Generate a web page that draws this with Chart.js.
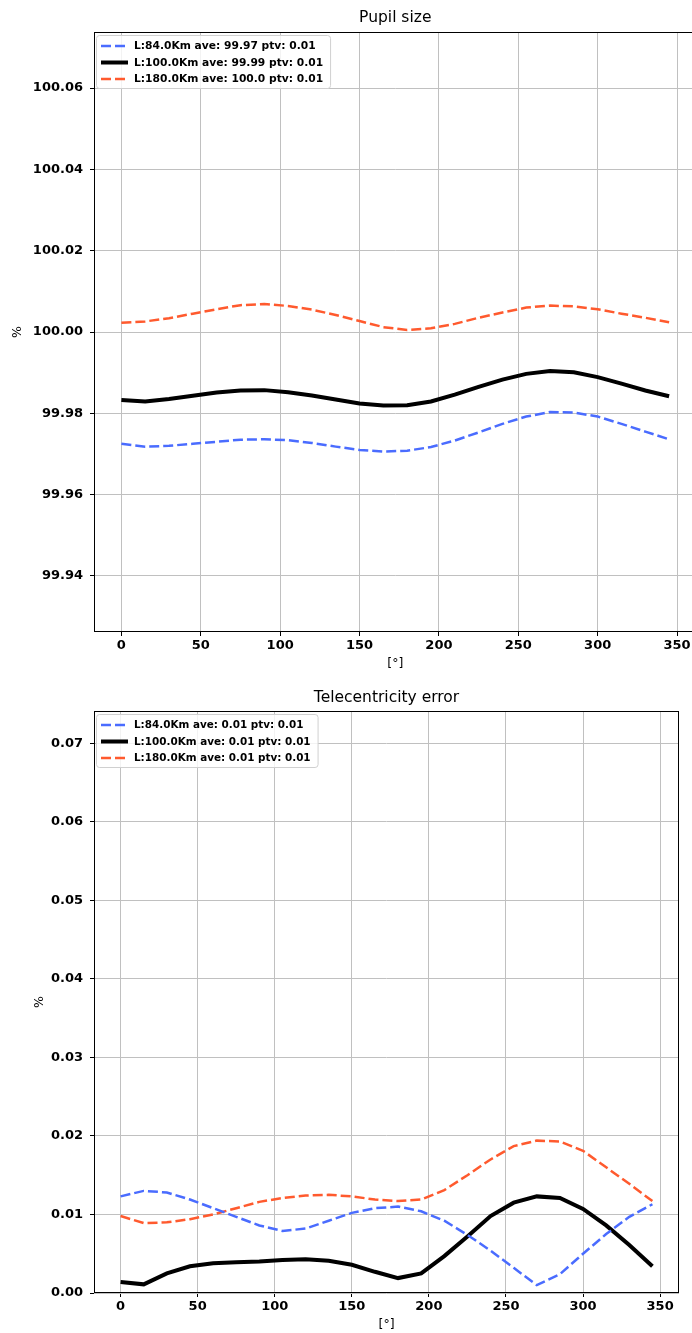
<!DOCTYPE html>
<html>
<head>
<meta charset="utf-8">
<script src="https://cdn.jsdelivr.net/npm/chart.js@4.4.1/dist/chart.umd.min.js"></script>
<style>
body{margin:0;background:#fff;overflow:hidden;width:692px;height:1333px;}
#top{position:absolute;left:0;top:0;width:692px;height:680px;overflow:hidden;}
#bot{position:absolute;left:0;top:680px;width:692px;height:653px;}
</style>
</head>
<body>
<div id="top"><canvas id="pupil" width="700" height="680"></canvas></div>
<div id="bot"><canvas id="tele" width="692" height="653"></canvas></div>
<script>
// angle in degrees
var angles = [0,15,30,45,60,75,90,105,120,135,150,165,180,195,210,225,240,255,270,285,300,315,330,345];

// Pupil size (%)
var pupil84  = [99.9725,99.9718,99.9720,99.9725,99.9730,99.9735,99.9736,99.9734,99.9727,99.9718,99.9710,99.9706,
                99.9708,99.9717,99.9733,99.9753,99.9774,99.9792,99.9803,99.9802,99.9792,99.9774,99.9755,99.9736];
var pupil100 = [99.9833,99.9829,99.9835,99.9843,99.9851,99.9856,99.9857,99.9852,99.9844,99.9834,99.9824,99.9819,
                99.9820,99.9829,99.9846,99.9865,99.9883,99.9897,99.9904,99.9901,99.9889,99.9873,99.9856,99.9842];
var pupil180 = [100.0023,100.0026,100.0034,100.0045,100.0056,100.0066,100.0069,100.0064,100.0055,100.0042,100.0027,100.0012,
                100.0005,100.0009,100.0020,100.0035,100.0048,100.0060,100.0065,100.0063,100.0056,100.0045,100.0035,100.0024];
var pupilLabels = ['L:84.0Km ave: 99.97 ptv: 0.01','L:100.0Km ave: 99.99 ptv: 0.01','L:180.0Km ave: 100.0 ptv: 0.01'];

// Telecentricity error (%)
var tele84  = [0.0123,0.0130,0.0128,0.0119,0.0108,0.0097,0.0086,0.0079,0.0082,0.0092,0.0102,0.0108,
               0.0110,0.0104,0.0092,0.0074,0.0054,0.0032,0.0010,0.0024,0.0050,0.0075,0.0097,0.0113];
var tele100 = [0.0014,0.0011,0.0025,0.0034,0.0038,0.0039,0.0040,0.0042,0.0043,0.0041,0.0036,0.0027,
               0.0019,0.0025,0.0047,0.0072,0.0098,0.0115,0.0123,0.0121,0.0107,0.0086,0.0061,0.0034];
var tele180 = [0.0098,0.0089,0.0090,0.0094,0.0100,0.0108,0.0116,0.0121,0.0124,0.0125,0.0123,0.0119,
               0.0117,0.0119,0.0131,0.0150,0.0170,0.0187,0.0194,0.0193,0.0181,0.0160,0.0139,0.0117];
var teleLabels = ['L:84.0Km ave: 0.01 ptv: 0.01','L:100.0Km ave: 0.01 ptv: 0.01','L:180.0Km ave: 0.01 ptv: 0.01'];

var xTicks = [0,50,100,150,200,250,300,350];

Chart.defaults.font.family = '"DejaVu Sans", sans-serif';
Chart.defaults.color = '#000';

var framePlugin = {
	id: 'frame',
	afterDatasetsDraw: function(chart, args, opts) {
		var ctx = chart.ctx, a = chart.chartArea;
		ctx.save();
		ctx.strokeStyle = '#000';
		ctx.lineWidth = 1;
		ctx.strokeRect(Math.round(a.left) + 0.5, Math.round(a.top) + 0.5,
			Math.round(a.right - a.left) - 1, Math.round(a.bottom - a.top) - 1);

		// title
		ctx.fillStyle = '#000';
		ctx.font = '15.5px "DejaVu Sans"';
		ctx.textAlign = 'center';
		ctx.textBaseline = 'middle';
		ctx.fillText(opts.text, (a.left + a.right) / 2, a.top - opts.gap);

		// legend in upper left
		ctx.font = 'bold ' + opts.legendSize + 'px "DejaVu Sans"';
		var ds = chart.data.datasets;
		var w = 0;
		for (var i = 0; i < ds.length; i++) {
			w = Math.max(w, ctx.measureText(ds[i].label).width);
		}
		var bx = a.left + 2.5, by = a.top + 3.5, bw = w + 45, bh = 53;
		ctx.beginPath();
		ctx.roundRect(bx, by, bw, bh, 3);
		ctx.fillStyle = 'rgba(255,255,255,0.8)';
		ctx.fill();
		ctx.strokeStyle = '#d0d0d0';
		ctx.stroke();
		ctx.textAlign = 'left';
		for (var j = 0; j < ds.length; j++) {
			var ry = a.top + 14 + j * 16.5;
			ctx.beginPath();
			ctx.setLineDash(ds[j].borderDash || []);
			ctx.strokeStyle = ds[j].borderColor;
			ctx.lineWidth = ds[j].borderWidth;
			ctx.moveTo(a.left + 7, ry);
			ctx.lineTo(a.left + 34, ry);
			ctx.stroke();
			ctx.setLineDash([]);
			ctx.fillStyle = '#000';
			ctx.fillText(ds[j].label, a.left + 40, ry + 0.5);
		}
		ctx.restore();
	}
};

function makeSets(labels, a, b, c) {
	var mk = function(lab, vals, color, width, dash) {
		var pts = [];
		for (var i = 0; i < angles.length; i++) pts.push({x: angles[i], y: vals[i]});
		return {label: lab, data: pts, borderColor: color, borderWidth: width, borderDash: dash,
			pointRadius: 0, tension: 0, fill: false};
	};
	return [
		mk(labels[0], a, '#4a6cff', 2.5, [10, 4]),
		mk(labels[1], b, '#000000', 4, []),
		mk(labels[2], c, '#ff5a2e', 2.5, [10, 4])
	];
}

function makeChart(id, sets, opt) {
	return new Chart(document.getElementById(id), {
		type: 'line',
		data: {datasets: sets},
		plugins: [framePlugin],
		options: {
			responsive: false,
			animation: false,
			devicePixelRatio: 1,
			layout: {padding: {top: opt.top, right: opt.right, left: 0, bottom: 0}},
			plugins: {
				legend: {display: false},
				tooltip: {enabled: false},
				frame: {text: opt.title, gap: opt.gap, legendSize: opt.legendSize}
			},
			scales: {
				x: {
					type: 'linear',
					min: -17.25, max: 362.25,
					afterFit: function(s) { s.height = opt.xh; },
					afterBuildTicks: function(s) { s.ticks = xTicks.map(function(v){ return {value: v}; }); },
					grid: {color: '#c0c0c0', lineWidth: 1, tickLength: 4, tickColor: '#000'},
					border: {display: false},
					ticks: {padding: 2, font: {size: 13, weight: 'bold'}, maxRotation: 0,
						callback: function(v) { return String(v); }},
					title: {display: true, text: '[°]', font: {size: 12.5}, padding: {top: 0, bottom: opt.xpad}}
				},
				y: {
					min: opt.ymin, max: opt.ymax,
					afterFit: function(s) { s.width = 94; },
					afterBuildTicks: function(s) { s.ticks = opt.yTicks.map(function(v){ return {value: v}; }); },
					grid: {color: '#c0c0c0', lineWidth: 1, tickLength: 4, tickColor: '#000'},
					border: {display: false},
					ticks: {padding: 7, font: {size: 13, weight: 'bold'},
						callback: function(v) { return v.toFixed(2); }},
					title: {display: true, text: '%', font: {size: 12.5}, padding: {top: opt.ypad, bottom: 0}}
				}
			}
		}
	});
}

var pupilTicks = [99.94,99.96,99.98,100.00,100.02,100.04,100.06];
var teleTicks = [0,0.01,0.02,0.03,0.04,0.05,0.06,0.07];

makeChart('pupil', makeSets(pupilLabels, pupil84, pupil100, pupil180), {
	title: 'Pupil size', gap: 14, top: 32, right: 3.5, xh: 48, xpad: 8.5, ypad: 10.5, legendSize: 10.7,
	ymin: 99.9262, ymax: 100.0738, yTicks: pupilTicks
});
makeChart('tele', makeSets(teleLabels, tele84, tele100, tele180), {
	title: 'Telecentricity error', gap: 13, top: 31, right: 13, xh: 40, xpad: 0.5, ypad: 32.5, legendSize: 10.4,
	ymin: 0, ymax: 0.0741, yTicks: teleTicks
});
</script>
</body>
</html>
